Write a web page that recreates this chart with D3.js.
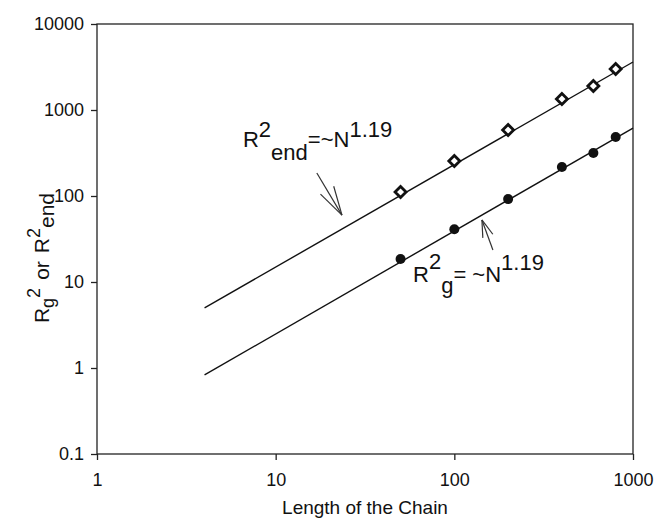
<!DOCTYPE html>
<html>
<head>
<meta charset="utf-8">
<script src="https://cdn.jsdelivr.net/npm/d3@7"></script>
<style>
  html, body { margin: 0; padding: 0; background: #fff; }
  svg text { font-family: "Liberation Sans", Arial, sans-serif; fill: #111; }
</style>
</head>
<body>
<svg id="chart" width="655" height="522"></svg>
<script>
// ---- data ----
const chainLength = [50, 100, 200, 400, 600, 800];
const rEnd2 = [111, 255, 585, 1340, 1900, 3000];
const rG2 = [18.5, 41, 92, 217, 316, 486];
const fitN = [4, 1000];
const fitEnd = [5.0, 3614];
const fitG = [0.83, 617];
const xTicks = [1, 10, 100, 1000];
const yTicks = [0.1, 1, 10, 100, 1000, 10000];
const xTickLabels = ["1", "10", "100", "1000"];
const yTickLabels = ["0.1", "1", "10", "100", "1000", "10000"];
// annotation anchors (data coords)
const endLabelAt = [6.56, 372];
const gLabelAt = [58.7, 10.0];
const endArrow = { tail: [17.0, 185], tip: [23.5, 60] };
const gArrow = { tail: [164.4, 23.6], tip: [142.7, 52.7] };

// ---- layout ----
const L = 97, R = 633, T = 24, B = 454;
const svg = d3.select("#chart");
const x = d3.scaleLog().domain([1, 1000]).range([L, R]);
const y = d3.scaleLog().domain([0.1, 10000]).range([B, T]);

// frame
svg.append("rect").attr("x", L).attr("y", T).attr("width", R - L).attr("height", B - T)
  .attr("fill", "none").attr("stroke", "#222").attr("stroke-width", 1.3);

// axes
const xAxis = d3.axisBottom(x).tickValues(xTicks).tickSize(6).tickSizeOuter(0)
  .tickFormat((d, i) => xTickLabels[i]);
const gx = svg.append("g").attr("transform", `translate(0,${B})`).call(xAxis);
gx.select(".domain").remove();
gx.selectAll("line").attr("stroke", "#222").attr("stroke-width", 1.3);
gx.selectAll("text").attr("font-size", 18).attr("dy", null).attr("y", 32)
  .style("font-family", "'Liberation Sans', Arial, sans-serif").attr("fill", "#111");

const yAxis = d3.axisLeft(y).tickValues(yTicks).tickSize(6).tickSizeOuter(0)
  .tickFormat((d, i) => yTickLabels[i]);
const gy = svg.append("g").attr("transform", `translate(${L},0)`).call(yAxis);
gy.select(".domain").remove();
gy.selectAll("line").attr("stroke", "#222").attr("stroke-width", 1.3);
gy.selectAll("text").attr("font-size", 18).attr("x", -13)
  .style("font-family", "'Liberation Sans', Arial, sans-serif").attr("fill", "#111");

// axis titles
svg.append("text").attr("x", (L + R) / 2).attr("y", 514).attr("text-anchor", "middle")
  .attr("font-size", 19).text("Length of the Chain");

const yt = svg.append("text").attr("transform", "translate(49,258) rotate(-90)")
  .attr("text-anchor", "middle").attr("font-size", 21);
yt.append("tspan").text("R");
yt.append("tspan").attr("dy", 5).attr("font-size", 18).text("g");
yt.append("tspan").attr("dy", -14).attr("font-size", 18).text("2");
yt.append("tspan").attr("dy", 9).attr("dx", 8).text("or");
yt.append("tspan").attr("dx", 8).text("R");
yt.append("tspan").attr("dy", -9).attr("font-size", 18).text("2");
yt.append("tspan").attr("dy", 14).attr("font-size", 21).text("end");

// fit lines
const line = d3.line().x(d => x(d[0])).y(d => y(d[1]));
svg.append("path").datum(fitN.map((n, i) => [n, fitEnd[i]])).attr("d", line)
  .attr("fill", "none").attr("stroke", "#111").attr("stroke-width", 1.4);
svg.append("path").datum(fitN.map((n, i) => [n, fitG[i]])).attr("d", line)
  .attr("fill", "none").attr("stroke", "#111").attr("stroke-width", 1.4);

// markers
svg.append("g").selectAll("path").data(chainLength.map((n, i) => [n, rEnd2[i]])).join("path")
  .attr("transform", d => `translate(${x(d[0])},${y(d[1])})`)
  .attr("d", "M0,-5.5L5.5,0L0,5.5L-5.5,0Z")
  .attr("fill", "#fff").attr("stroke", "#111").attr("stroke-width", 2.8);
svg.append("g").selectAll("circle").data(chainLength.map((n, i) => [n, rG2[i]])).join("circle")
  .attr("cx", d => x(d[0])).attr("cy", d => y(d[1])).attr("r", 5).attr("fill", "#111");

// annotations
function label(at, parts) {
  const t = svg.append("text").attr("x", x(at[0])).attr("y", y(at[1])).attr("font-size", 22);
  parts.forEach(p => {
    const s = t.append("tspan").text(p.t);
    if (p.dy) s.attr("dy", p.dy);
    if (p.dx) s.attr("dx", p.dx);
  });
}
label(endLabelAt, [
  { t: "R" }, { t: "2", dy: -10 }, { t: "end", dy: 23 }, { t: "=~N", dy: -13 }, { t: "1.19", dy: -10 }
]);
label(gLabelAt, [
  { t: "R" }, { t: "2", dy: -13 }, { t: "g", dy: 24 }, { t: "= ~N", dy: -11 }, { t: "1.19", dy: -12 }
]);

function arrow(a, headLen, spread) {
  const x0 = x(a.tail[0]), y0 = y(a.tail[1]), x1 = x(a.tip[0]), y1 = y(a.tip[1]);
  const g = svg.append("g").attr("stroke", "#333").attr("stroke-width", 1.2).attr("fill", "none");
  g.append("line").attr("x1", x0).attr("y1", y0).attr("x2", x1).attr("y2", y1);
  const ang = Math.atan2(y0 - y1, x0 - x1);
  [-spread, spread].forEach(da => {
    g.append("line").attr("x1", x1).attr("y1", y1)
      .attr("x2", x1 + headLen * Math.cos(ang + da)).attr("y2", y1 + headLen * Math.sin(ang + da));
  });
}
arrow(endArrow, 30, 0.26);
arrow(gArrow, 18, 0.3);
</script>
</body>
</html>
